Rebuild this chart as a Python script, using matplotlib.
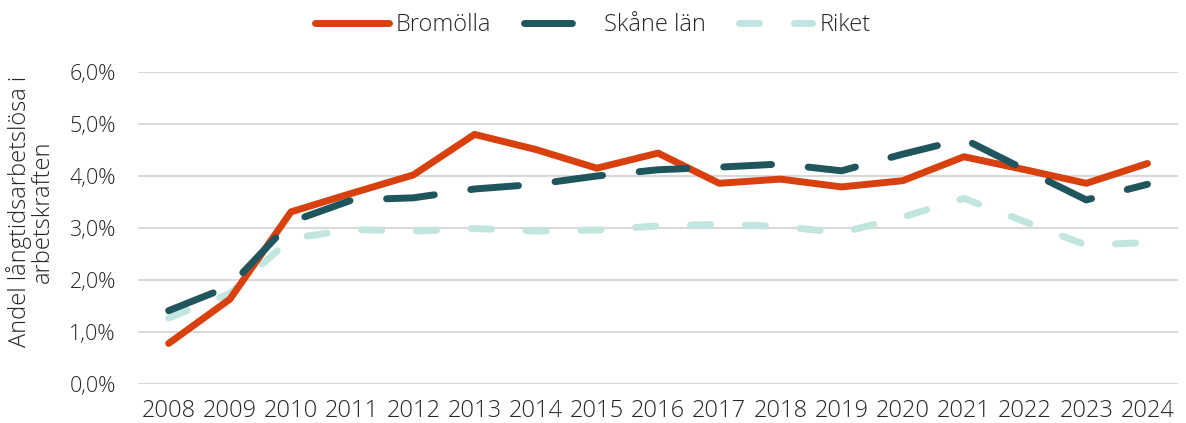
import matplotlib
matplotlib.use("Agg")
import matplotlib.pyplot as plt
from matplotlib.ticker import FuncFormatter

years = ["2008", "2009", "2010", "2011", "2012", "2013", "2014", "2015", "2016",
         "2017", "2018", "2019", "2020", "2021", "2022", "2023", "2024"]
bromolla = [0.78, 1.63, 3.31, 3.67, 4.02, 4.80, 4.51, 4.15, 4.44,
            3.86, 3.94, 3.79, 3.91, 4.37, 4.12, 3.86, 4.24]
skane = [1.41, 1.88, 3.12, 3.54, 3.58, 3.75, 3.84, 4.00, 4.12,
         4.17, 4.23, 4.10, 4.42, 4.71, 4.12, 3.54, 3.84]
riket = [1.27, 1.74, 2.80, 2.97, 2.94, 2.99, 2.94, 2.96, 3.04,
         3.07, 3.03, 2.91, 3.21, 3.57, 3.12, 2.67, 2.72]

plt.rcParams['font.family'] = ['Open Sans', 'DejaVu Sans']

fig = plt.figure(figsize=(11.86, 4.23), dpi=100)
ax = fig.add_axes([0.1164, 0.0922, 0.8769, 0.7376])

x = list(range(len(years)))
lw = 5
ax.plot(x, bromolla, color="#D8400E", lw=lw, solid_capstyle="round",
        solid_joinstyle="round", label="Bromölla", zorder=3)
l2, = ax.plot(x, skane, color="#1F555C", lw=lw, dash_capstyle="round",
              dash_joinstyle="round", label="Skåne län", zorder=4)
l2.set_dashes((6.9, 5.3))
l3, = ax.plot(x, riket, color="#C1E5DF", lw=lw, dash_capstyle="round",
              dash_joinstyle="round", label="Riket", zorder=2)
l3.set_dashes((2.9, 5.0))

ax.set_ylim(0, 6)
ax.set_xlim(-0.5, 16.5)
ax.set_yticks([0, 1, 2, 3, 4, 5, 6])
ax.yaxis.set_major_formatter(FuncFormatter(lambda v, p: f"{v:.1f}%".replace(".", ",")))
ax.set_xticks(x)
ax.set_xticklabels(years)
ax.grid(axis="y", color="#D9D9D9", lw=1.5, zorder=0)
ax.set_axisbelow(True)
for s in ax.spines.values():
    s.set_visible(False)
ax.tick_params(axis="both", length=0, colors="#262626")
ax.tick_params(axis="x", pad=11, labelsize=17)
ax.tick_params(axis="y", pad=16, labelsize=15.5)
for t in ax.get_xticklabels() + ax.get_yticklabels():
    t.set_fontweight("light")

fig.text(0.026, 0.5, "Andel långtidsarbetslösa i\narbetskraften", rotation=90,
         ha="center", va="center", fontsize=17, color="#262626",
         fontweight="light", linespacing=0.95)

leg = fig.legend(loc="center", bbox_to_anchor=(0.5, 1 - 25 / 423), ncol=3, frameon=False,
                 fontsize=17, handlelength=3.1, columnspacing=1.4, handletextpad=0.3,
                 borderpad=0, borderaxespad=0)
for t in leg.get_texts():
    t.set_color("#262626")
    t.set_fontweight("light")

fig.savefig("out.png", dpi=100)
